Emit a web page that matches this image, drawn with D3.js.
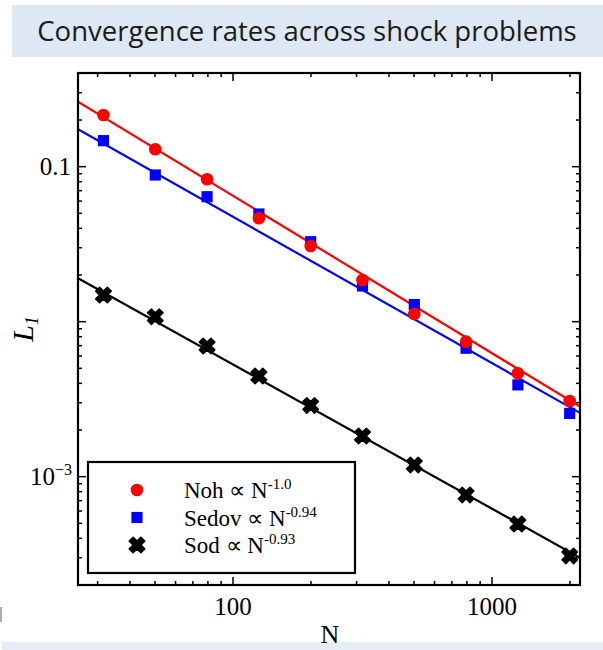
<!DOCTYPE html>
<html>
<head>
<meta charset="utf-8">
<script src="https://cdn.jsdelivr.net/npm/d3@7"></script>
<style>
  html, body { margin: 0; padding: 0; background: #ffffff; }
  svg { display: block; }
</style>
</head>
<body>
<svg id="chart" width="603" height="650"></svg>
<script>
// ---- data ----
const N = [31.6, 50.1, 79.4, 125.9, 199.5, 316.2, 501.2, 794.3, 1258.9, 1995.3];
const noh = [0.2156, 0.1295, 0.0829, 0.0465, 0.0308, 0.01858, 0.01122, 0.00743, 0.00465, 0.00308];
const sedov = [0.1472, 0.0884, 0.0640, 0.0495, 0.0328, 0.0170, 0.0129, 0.00674, 0.00391, 0.00256];
const sod = [0.01486, 0.01077, 0.00697, 0.00446, 0.00288, 0.00183, 0.00119, 0.000762, 0.000495, 0.000308];
const seriesNames = ["Noh", "Sedov", "Sod"];
const expLabels = ["-1.0", "-0.94", "-0.93"];
const fitAmp = [6.946, 3.666, 0.3831];
const fitExp = [-1.015, -0.944, -0.93];
const xTickLabels = [100, 1000];
const yTickLabels = [0.1, 0.001];
const titleText = "Convergence rates across shock problems";

// ---- layout ----
const svg = d3.select("#chart");
const L = 78, R = 580, T = 73, B = 585;
const x = d3.scaleLog().domain([25.2, 2187]).range([L, R]);
const y = d3.scaleLog().domain([0.0002, 0.4022]).range([B, T]);
const colors = ["#ff0000", "#0000ff", "#000000"];
const serif = "'Liberation Serif', 'Times New Roman', serif";

// title box
svg.append("rect").attr("x", 12).attr("y", 5).attr("width", 591).attr("height", 52).attr("fill", "#dde8f4");
svg.append("text").attr("x", 307).attr("y", 41).attr("text-anchor", "middle")
  .attr("font-family", "'Open Sans', 'Noto Sans', sans-serif").attr("font-size", 27.5)
  .attr("fill", "#1a1a1a").text(titleText);

// bottom band
svg.append("rect").attr("x", 2).attr("y", 642).attr("width", 601).attr("height", 8).attr("fill", "#e6edf8");
// stray clipped glyph fragment at left edge
svg.append("line").attr("x1", 1).attr("x2", 1).attr("y1", 607).attr("y2", 622)
  .attr("stroke", "#777").attr("stroke-width", 1.2);

// clip
svg.append("clipPath").attr("id", "clip").append("rect")
  .attr("x", L).attr("y", T).attr("width", R - L).attr("height", B - T);

const g = svg.append("g");

// ticks (all four sides, inward)
const xTicks = x.ticks();
const yTicks = y.ticks();
function isMajor(v) { const l = Math.log10(v); return Math.abs(l - Math.round(l)) < 1e-6; }
xTicks.forEach(v => {
  const len = isMajor(v) ? 8 : 4;
  const px = x(v);
  g.append("line").attr("x1", px).attr("x2", px).attr("y1", B).attr("y2", B - len).attr("stroke", "#000").attr("stroke-width", 1.5);
  g.append("line").attr("x1", px).attr("x2", px).attr("y1", T).attr("y2", T + len).attr("stroke", "#000").attr("stroke-width", 1.5);
});
yTicks.forEach(v => {
  const len = isMajor(v) ? 8 : 4;
  const py = y(v);
  g.append("line").attr("x1", L).attr("x2", L + len).attr("y1", py).attr("y2", py).attr("stroke", "#000").attr("stroke-width", 1.5);
  g.append("line").attr("x1", R).attr("x2", R - len).attr("y1", py).attr("y2", py).attr("stroke", "#000").attr("stroke-width", 1.5);
});

// x tick labels
xTickLabels.forEach(v => {
  g.append("text").attr("x", x(v)).attr("y", 615).attr("text-anchor", "middle")
    .attr("font-family", serif).attr("font-size", 25).text(v);
});
// y tick labels
g.append("text").attr("x", 71).attr("y", y(yTickLabels[0]) + 8.5).attr("text-anchor", "end")
  .attr("font-family", serif).attr("font-size", 25).text("0.1");
const ylab = g.append("text").attr("x", 72).attr("y", y(yTickLabels[1]) + 8.5).attr("text-anchor", "end")
  .attr("font-family", serif).attr("font-size", 25);
ylab.append("tspan").text("10");
ylab.append("tspan").attr("font-size", 16).attr("dy", -10).text("\u22123");

// axis titles
g.append("text").attr("x", 330).attr("y", 643).attr("text-anchor", "middle")
  .attr("font-family", serif).attr("font-size", 26).text("N");
const ylt = g.append("text").attr("transform", "translate(33,329) rotate(-90)").attr("text-anchor", "middle")
  .attr("font-family", serif).attr("font-style", "italic").attr("font-size", 30);
ylt.append("tspan").text("L");
ylt.append("tspan").attr("font-size", 18).attr("dy", 5).text("1");

// fit lines
const plot = g.append("g").attr("clip-path", "url(#clip)");
const xd = x.domain();
const line = d3.line().x(d => x(d[0])).y(d => y(d[1]));
fitAmp.forEach((A, i) => {
  const pts = xd.map(n => [n, A * Math.pow(n, fitExp[i])]);
  plot.append("path").attr("d", line(pts)).attr("fill", "none")
    .attr("stroke", colors[i]).attr("stroke-width", 2.2);
});

// markers
const circ = d3.symbol().type(d3.symbolCircle).size(125);
const sq = d3.symbol().type(d3.symbolSquare).size(125);
const cross = d3.symbol().type(d3.symbolCross).size(150);
function drawMarker(sel, i, px, py) {
  if (i === 0) sel.append("path").attr("d", circ()).attr("transform", `translate(${px},${py})`).attr("fill", colors[0]);
  else if (i === 1) sel.append("path").attr("d", sq()).attr("transform", `translate(${px},${py})`).attr("fill", colors[1]);
  else sel.append("path").attr("d", cross()).attr("transform", `translate(${px},${py}) rotate(45)`)
    .attr("fill", colors[2]).attr("stroke", colors[2]).attr("stroke-width", 1.5).attr("stroke-linejoin", "round");
}
[sod, sedov, noh].forEach((arr, k) => {
  const i = 2 - k;
  arr.forEach((v, j) => drawMarker(plot, i, x(N[j]), y(v)));
});

// frame
g.append("rect").attr("x", L).attr("y", T).attr("width", R - L).attr("height", B - T)
  .attr("fill", "none").attr("stroke", "#000").attr("stroke-width", 2.2);

// legend
const lg = g.append("g");
lg.append("rect").attr("x", 88).attr("y", 462).attr("width", 267).attr("height", 111)
  .attr("fill", "#fff").attr("stroke", "#000").attr("stroke-width", 2.2);
seriesNames.forEach((name, i) => {
  const cy = 490 + i * 27.5;
  drawMarker(lg, i, 137, cy);
  const t = lg.append("text").attr("x", 184).attr("y", cy + 8)
    .attr("font-family", serif).attr("font-size", 23);
  t.append("tspan").text(name + " \u221D N");
  t.append("tspan").attr("font-size", 15).attr("dy", -9).text(expLabels[i]);
});
</script>
</body>
</html>
